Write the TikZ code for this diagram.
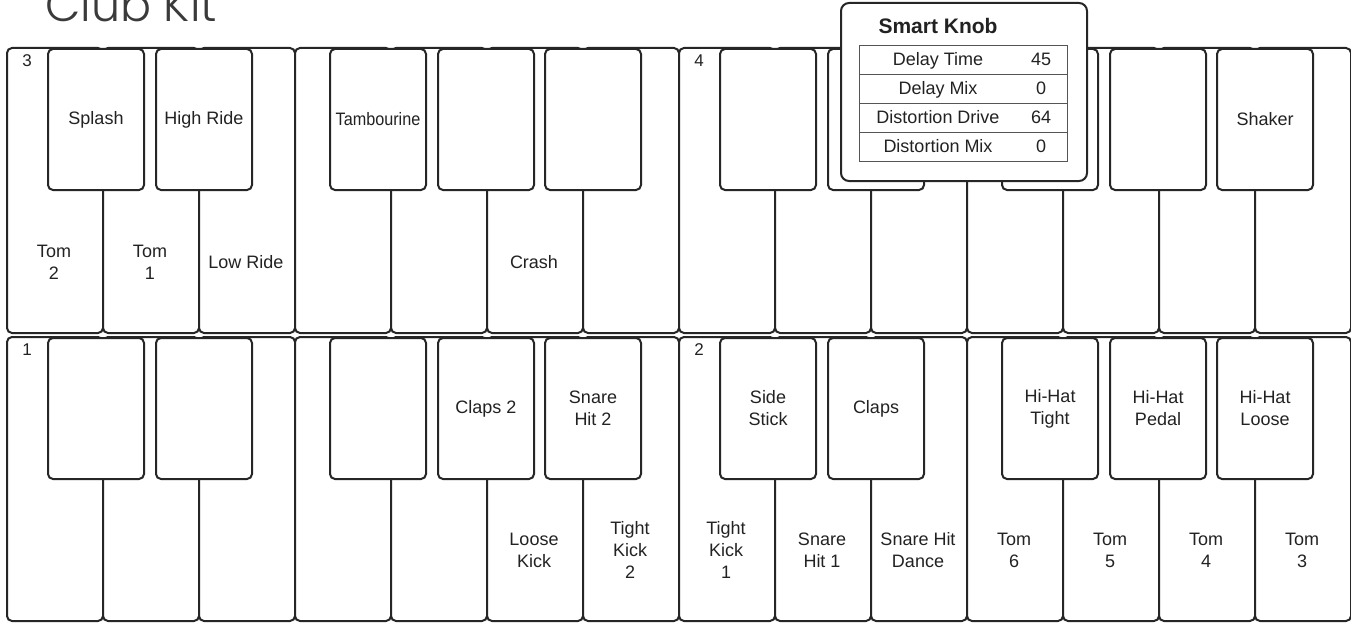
\documentclass[tikz,border=0pt]{standalone}
\usepackage{graphicx}
\usepackage{fontspec}
\setmainfont{Liberation Sans}
\newfontfamily\titlefont{Poppins Light}
\definecolor{keyc}{HTML}{262626}
\definecolor{txtc}{HTML}{222222}
\definecolor{titlec}{HTML}{3A3A3A}
\definecolor{gridc}{HTML}{555555}
\tikzset{
  keyline/.style={draw=keyc, line width=2pt, fill=white, rounded corners=5pt, inner sep=0pt, anchor=north west},
  whitekey/.style={keyline, minimum width=96pt},
  blackkey/.style={keyline, minimum width=96pt, minimum height=141pt},
  lbl/.style={font=\fontsize{18}{22}\selectfont, text=txtc, align=center, inner sep=0pt},
  numlbl/.style={font=\fontsize{17}{20}\selectfont, text=txtc, inner sep=0pt},
  cell/.style={draw=gridc, line width=1.3pt, fill=white, inner sep=0pt, anchor=north west, minimum width=208pt, minimum height=29pt},
}
\begin{document}
\begin{tikzpicture}[x=1pt,y=-1pt]
\useasboundingbox (0,0) rectangle (1351,623);
% title
\node[anchor=base west, font=\titlefont\fontsize{46}{46}\selectfont, text=titlec, inner sep=0pt] (title) at (45,22) {Club Kit};
% white keys
\foreach \r/\y/\h in {t/47/285, b/336/284} {
  \foreach \i in {0,...,13} {
    \node[whitekey, minimum height=\h pt] (\r w\i) at ({6+96*\i},\y) {};
  }
}
% black keys
\foreach \r/\y in {t/48, b/337} {
  \foreach \o/\ox in {0/6, 1/678} {
    \foreach \k/\off in {0/41, 1/149, 2/323, 3/431, 4/538} {
      \node[blackkey] (\r b\o\k) at ({\ox+\off},\y) {};
    }
  }
}
% octave numbers
\node[numlbl] (n3) at (27,61) {3};
\node[numlbl] (n4) at (699,61) {4};
\node[numlbl] (n1) at (27,350) {1};
\node[numlbl] (n2) at (699,350) {2};
% top row white labels
\node[lbl] (ltw0) at (54,262) {Tom\\2};
\node[lbl] (ltw1) at (150,262) {Tom\\1};
\node[lbl] (ltw2) at (246,262) {Low Ride};
\node[lbl] (ltw5) at (534,262) {Crash};
% top row black labels
\node[lbl] (ltb00) at (tb00) {Splash};
\node[lbl] (ltb01) at (tb01) {High Ride};
\node[lbl] (ltb02) at (tb02) {\scalebox{0.9}[1]{Tambourine}};
\node[lbl] (ltb14) at (tb14) {Shaker};
% bottom row black labels
\node[lbl] (lbb03) at (bb03) {Claps 2};
\node[lbl] (lbb04) at (bb04) {Snare\\Hit 2};
\node[lbl] (lbb10) at (bb10) {Side\\Stick};
\node[lbl] (lbb11) at (bb11) {Claps};
\node[lbl] (lbb12) at (bb12) {Hi-Hat\\Tight};
\node[lbl] (lbb13) at (bb13) {Hi-Hat\\Pedal};
\node[lbl] (lbb14) at (bb14) {Hi-Hat\\Loose};
% bottom row white labels
\node[lbl] (lbw5) at (534,550) {Loose\\Kick};
\node[lbl] (lbw6) at (630,550) {Tight\\Kick\\2};
\node[lbl] (lbw7) at (726,550) {Tight\\Kick\\1};
\node[lbl] (lbw8) at (822,550) {Snare\\Hit 1};
\node[lbl] (lbw9) at (918,550) {Snare Hit\\Dance};
\node[lbl] (lbw10) at (1014,550) {Tom\\6};
\node[lbl] (lbw11) at (1110,550) {Tom\\5};
\node[lbl] (lbw12) at (1206,550) {Tom\\4};
\node[lbl] (lbw13) at (1302,550) {Tom\\3};
% smart knob
\node[draw=keyc, line width=2pt, fill=white, rounded corners=8pt, inner sep=0pt, anchor=north west, minimum width=246pt, minimum height=178pt] (knob) at (840,2) {};
\node[font=\bfseries\fontsize{21}{24}\selectfont, text=txtc, inner sep=0pt] (knobtitle) at (938,26) {Smart Knob};
\foreach \j/\nm/\v in {0/Delay Time/45, 1/Delay Mix/0, 2/Distortion Drive/64, 3/Distortion Mix/0} {
  \node[cell] (row\j) at (859,{45+29*\j}) {};
  \node[lbl, anchor=base] (rowname\j) at (938,{66+29*\j}) {\nm};
  \node[lbl, anchor=base] (rowval\j) at (1041,{66+29*\j}) {\v};
}
\end{tikzpicture}
\end{document}
